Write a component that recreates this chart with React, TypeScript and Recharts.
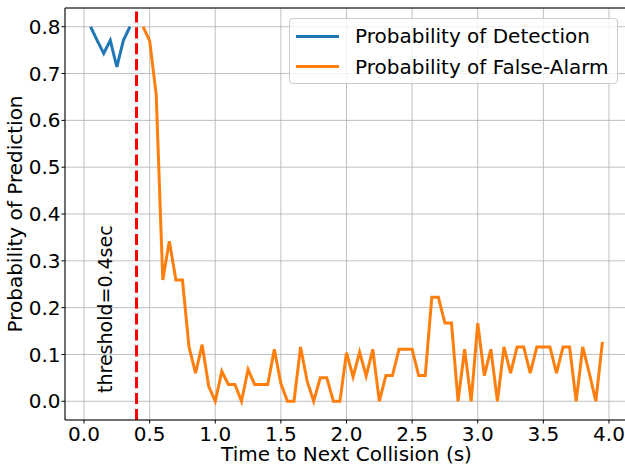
import {
  LineChart,
  Line,
  XAxis,
  YAxis,
  CartesianGrid,
  ReferenceLine,
  Legend,
} from 'recharts';

const FONT = '"DejaVu Sans", sans-serif';

// Probability of Detection (before threshold)
const detTime = [0.05, 0.1, 0.15, 0.2, 0.25, 0.3, 0.35];
const detProb = [0.8, 0.771, 0.743, 0.771, 0.714, 0.771, 0.8];

// Probability of False-Alarm (after threshold)
const faTime = [
  0.45, 0.5, 0.55, 0.6, 0.65, 0.7, 0.75, 0.8, 0.85, 0.9, 0.95,
  1.0, 1.05, 1.1, 1.15, 1.2, 1.25, 1.3, 1.35, 1.4, 1.45,
  1.5, 1.55, 1.6, 1.65, 1.7, 1.75, 1.8, 1.85, 1.9, 1.95,
  2.0, 2.05, 2.1, 2.15, 2.2, 2.25, 2.3, 2.35, 2.4, 2.45,
  2.5, 2.55, 2.6, 2.65, 2.7, 2.75, 2.8, 2.85, 2.9, 2.95,
  3.0, 3.05, 3.1, 3.15, 3.2, 3.25, 3.3, 3.35, 3.4, 3.45,
  3.5, 3.55, 3.6, 3.65, 3.7, 3.75, 3.8, 3.85, 3.9, 3.95,
];
const faProb = [
  0.8, 0.77, 0.655, 0.259, 0.342, 0.259, 0.259, 0.116, 0.06, 0.121, 0.032,
  0, 0.064, 0.036, 0.036, 0, 0.068, 0.036, 0.036, 0.036, 0.111,
  0.038, 0, 0, 0.116, 0.043, 0, 0.05, 0.05, 0, 0,
  0.104, 0.052, 0.105, 0.054, 0.111, 0, 0.055, 0.055, 0.111, 0.111,
  0.111, 0.055, 0.055, 0.222, 0.222, 0.167, 0.167, 0, 0.111, 0,
  0.167, 0.055, 0.111, 0, 0.116, 0.06, 0.116, 0.116, 0.06, 0.116,
  0.116, 0.116, 0.06, 0.116, 0.116, 0, 0.116, 0.06, 0, 0.127,
];

const xTicks = [0, 0.5, 1, 1.5, 2, 2.5, 3, 3.5, 4];
const yTicks = [0, 0.1, 0.2, 0.3, 0.4, 0.5, 0.6, 0.7, 0.8];
const threshold = 0.4;

const detData = detTime.map((t, i) => ({ t, p: detProb[i] }));
const faData = faTime.map((t, i) => ({ t, p: faProb[i] }));

const legendItems = [
  { label: 'Probability of Detection', color: '#1f77b4' },
  { label: 'Probability of False-Alarm', color: '#ff7f0e' },
];

const LegendBox = () => (
  <div
    style={{
      position: 'relative',
      width: '100%',
      height: '100%',
      boxSizing: 'border-box',
      border: '1px solid #cccccc',
      borderRadius: 4,
      background: 'rgba(255,255,255,0.8)',
      fontFamily: FONT,
      fontSize: 20,
      color: '#000',
    }}
  >
    {legendItems.map((item, i) => (
      <div
        key={item.label}
        style={{
          position: 'absolute',
          left: 6,
          top: 2.4 + i * 30.3,
          height: 30,
          display: 'flex',
          alignItems: 'center',
          whiteSpace: 'nowrap',
        }}
      >
        <span style={{ display: 'inline-block', width: 43, height: 3, background: item.color }} />
        <span style={{ marginLeft: 16 }}>{item.label}</span>
      </div>
    ))}
  </div>
);

const tickStyle = { fill: '#000', fontSize: 20, fontFamily: FONT };

export default function App() {
  return (
    <div style={{ position: 'fixed', top: 0, left: 0, width: 625, height: 468, overflow: 'hidden', background: '#fff' }}>
      <LineChart width={640} height={468} margin={{ top: 8, right: 12, bottom: 0, left: 0 }}>
        <CartesianGrid stroke="#b0b0b0" strokeWidth={0.8} />
        <XAxis
          dataKey="t"
          type="number"
          domain={[-0.145, 4.145]}
          ticks={xTicks}
          allowDataOverflow
          tickFormatter={(v: number) => v.toFixed(1)}
          tick={tickStyle}
          tickSize={3.5}
          tickMargin={3}
          axisLine={{ stroke: '#000', strokeWidth: 1 }}
          tickLine={{ stroke: '#000', strokeWidth: 1 }}
          height={48}
          label={{
            content: ({ viewBox }: any) => (
              <text
                x={viewBox.x + viewBox.width / 2}
                y={viewBox.y + 41}
                textAnchor="middle"
                fontSize={20}
                fontFamily={FONT}
                fill="#000"
              >
                Time to Next Collision (s)
              </text>
            ),
          }}
        />
        <YAxis
          type="number"
          domain={[-0.04, 0.84]}
          ticks={yTicks}
          allowDataOverflow
          tickFormatter={(v: number) => v.toFixed(1)}
          tick={tickStyle}
          tickSize={3.5}
          tickMargin={1}
          axisLine={{ stroke: '#000', strokeWidth: 1 }}
          tickLine={{ stroke: '#000', strokeWidth: 1 }}
          width={65}
          label={{
            content: ({ viewBox }: any) => {
              const x = viewBox.x + 22;
              const y = viewBox.y + viewBox.height / 2;
              return (
                <text
                  x={x}
                  y={y}
                  transform={`rotate(-90, ${x}, ${y})`}
                  textAnchor="middle"
                  fontSize={20}
                  fontFamily={FONT}
                  fill="#000"
                >
                  Probability of Prediction
                </text>
              );
            },
          }}
        />
        {/* top spine */}
        <ReferenceLine y={0.84} stroke="#000" strokeWidth={1} />
        <Line
          data={detData}
          dataKey="p"
          type="linear"
          stroke="#1f77b4"
          strokeWidth={3}
          dot={false}
          isAnimationActive={false}
        />
        <Line
          data={faData}
          dataKey="p"
          type="linear"
          stroke="#ff7f0e"
          strokeWidth={3}
          dot={false}
          isAnimationActive={false}
        />
        <ReferenceLine
          x={threshold}
          stroke="#ff0000"
          strokeWidth={3}
          strokeDasharray="11.1 4.8"
          label={{
            content: ({ viewBox }: any) => {
              const x = viewBox.x - 25;
              const y = viewBox.y + viewBox.height - 27;
              return (
                <text
                  x={x}
                  y={y}
                  transform={`rotate(-90, ${x}, ${y})`}
                  textAnchor="start"
                  fontSize={19}
                  fontFamily={FONT}
                  fill="#000"
                >
                  threshold=0.4sec
                </text>
              );
            },
          }}
        />
        <Legend
          layout="vertical"
          align="center"
          verticalAlign="middle"
          content={() => <LegendBox />}
          wrapperStyle={{ left: 289, top: 18, width: 329, height: 66 }}
        />
      </LineChart>
    </div>
  );
}
